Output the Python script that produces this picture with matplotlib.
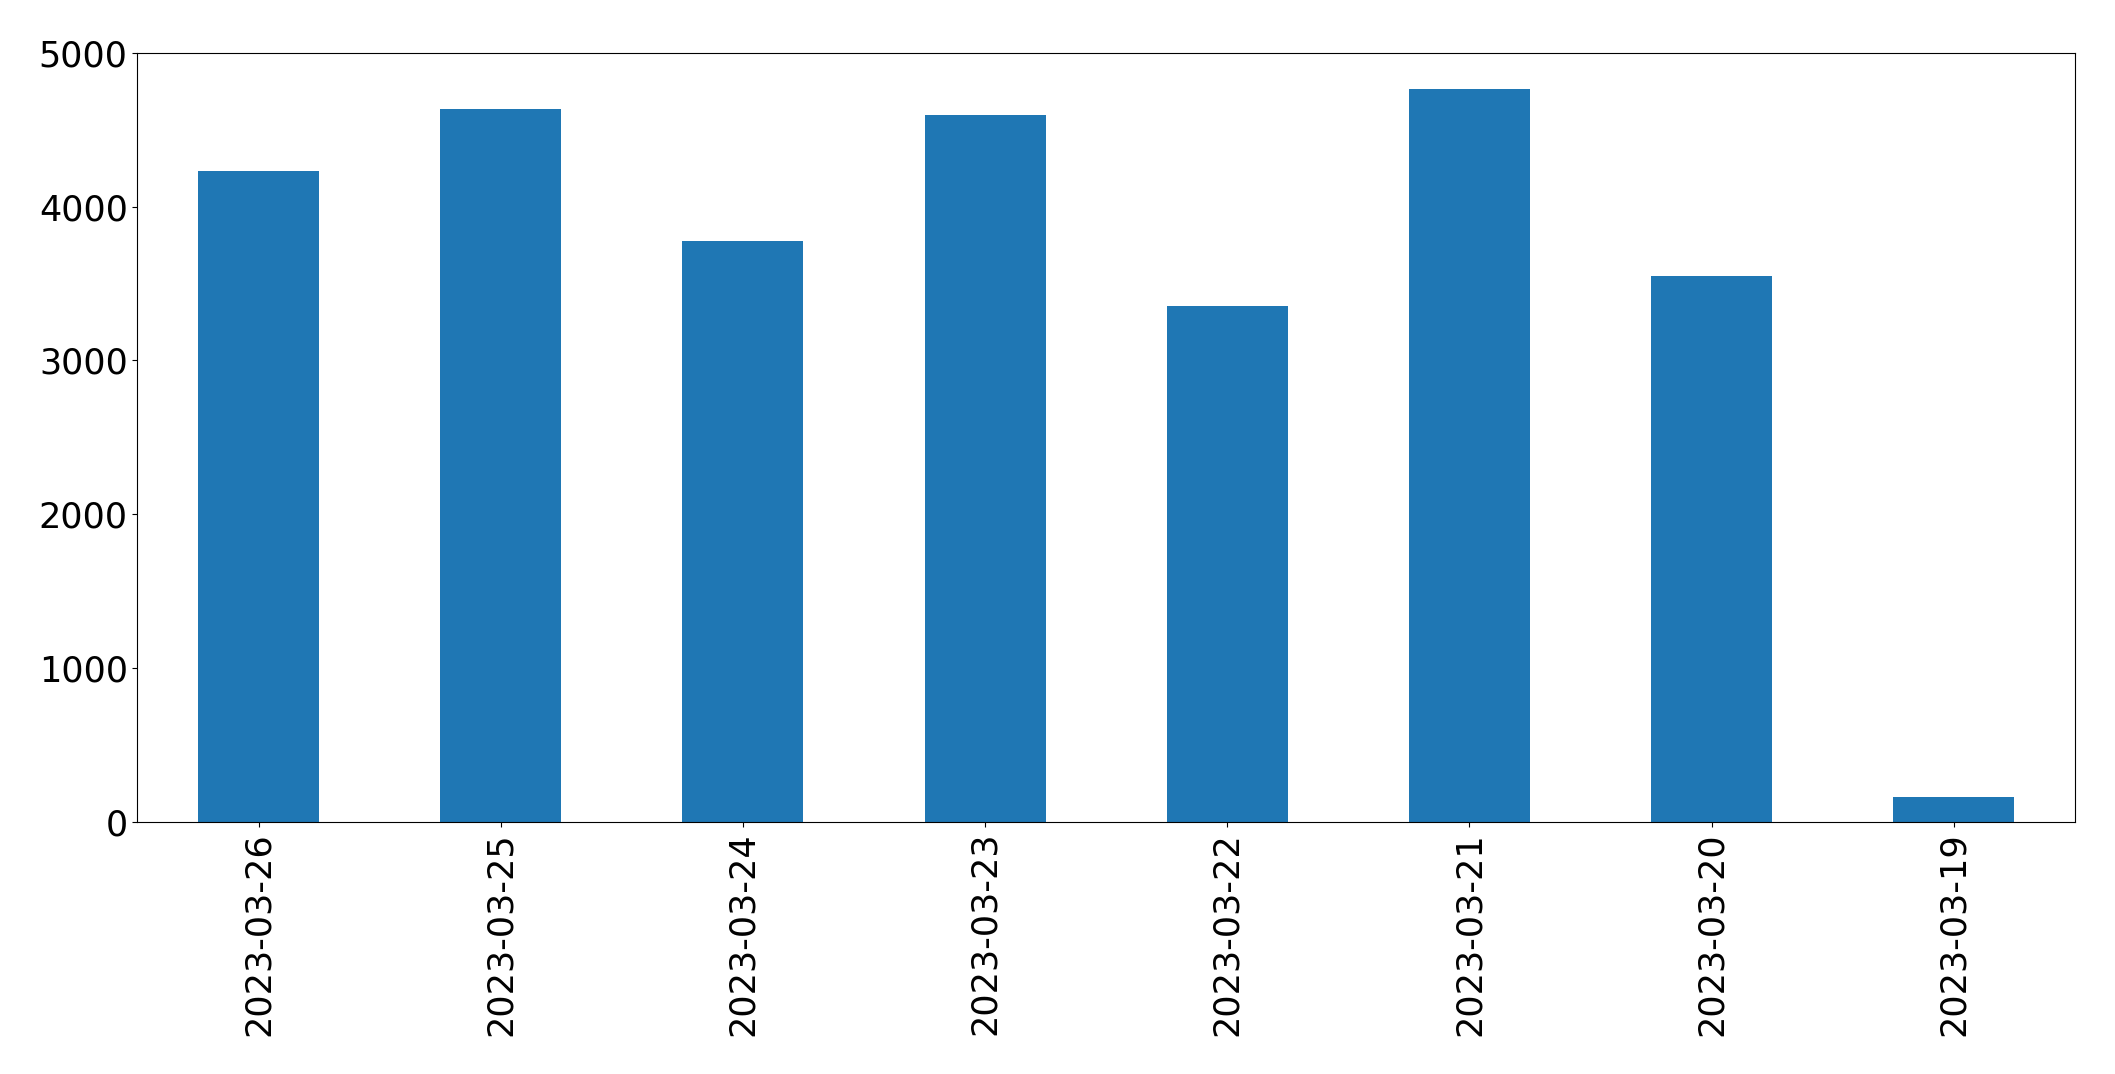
import matplotlib
matplotlib.use('Agg')
import matplotlib.pyplot as plt
import numpy as np

dates = ['2023-03-26', '2023-03-25', '2023-03-24', '2023-03-23',
         '2023-03-22', '2023-03-21', '2023-03-20', '2023-03-19']
counts = [4232, 4635, 3777, 4596, 3355, 4765, 3550, 164]

fig = plt.figure(figsize=(21.15, 10.74), dpi=100)
ax = fig.add_axes([0.065, 0.2344, 0.916, 0.7166])
x = np.arange(len(dates))
ax.bar(x, counts, width=0.5, color='#1f77b4')
ax.set_xlim(-0.5, len(dates) - 0.5)
ax.set_ylim(0, 5000)
ax.set_xticks(x)
ax.set_xticklabels(dates, rotation=90)
ax.tick_params(axis='both', labelsize=25.2)
fig.savefig('out.png', dpi=100)
